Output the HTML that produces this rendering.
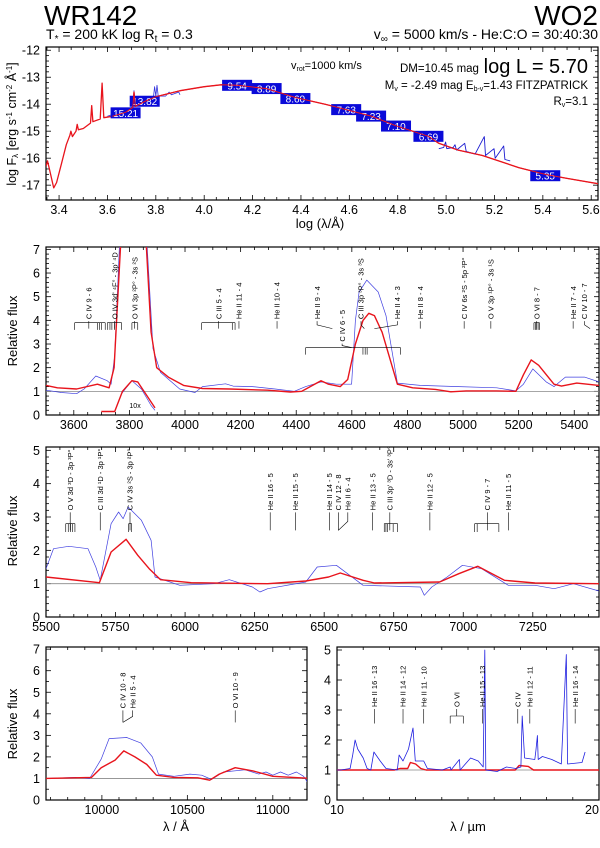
<!DOCTYPE html>
<html><head><meta charset="utf-8"><style>
html,body{margin:0;padding:0;background:#fff;}
svg{display:block;font-family:"Liberation Sans",sans-serif;}
</style></head><body>
<svg id="fig" width="600" height="848" viewBox="0 0 600 848" xmlns="http://www.w3.org/2000/svg">
<text x="44" y="25" font-size="28">WR142</text>
<text x="46" y="39" font-size="14">T<tspan font-size="10" dy="3">*</tspan><tspan dy="-3"> = 200 kK  log R</tspan><tspan font-size="10" dy="3">t</tspan><tspan dy="-3"> = 0.3</tspan></text>
<text x="598" y="25" font-size="28" text-anchor="end">WO2</text>
<text x="598" y="39" font-size="14" text-anchor="end">v<tspan font-size="10" dy="3">∞</tspan><tspan dy="-3"> = 5000 km/s - He:C:O = 30:40:30</tspan></text>
<text x="291" y="69" font-size="11">v<tspan font-size="7" dy="2">rot</tspan><tspan dy="-2">=1000 km/s</tspan></text>
<text x="400" y="72" font-size="11.5">DM=10.45 mag</text>
<text x="588" y="73" font-size="20" text-anchor="end">log L = 5.70</text>
<text x="588" y="89" font-size="11.5" text-anchor="end">M<tspan font-size="7" dy="2">v</tspan><tspan dy="-2"> = -2.49 mag   E</tspan><tspan font-size="7" dy="2">b-v</tspan><tspan dy="-2">=1.43  FITZPATRICK</tspan></text>
<text x="588" y="105" font-size="11.5" text-anchor="end">R<tspan font-size="7" dy="2">v</tspan><tspan dy="-2">=3.1</tspan></text>
<g id="plots"></g>
</svg>
<script>
// ---------- DATA ----------
const sedRed = [[3.346,-16.3],[3.352,-16.1],[3.36,-16.4],[3.378,-17.1],[3.39,-16.9],[3.41,-16.2],[3.43,-15.5],[3.445,-15.15],[3.449,-15.0],[3.455,-15.2],[3.47,-15.0],[3.475,-14.75],[3.48,-14.95],[3.5,-14.9],[3.53,-14.7],[3.535,-14.05],[3.54,-14.65],[3.57,-14.55],[3.578,-13.22],[3.585,-14.5],[3.62,-14.45],[3.675,-14.3],[3.705,-14.12],[3.71,-13.55],[3.715,-14.08],[3.754,-13.9],[3.8,-13.72],[3.9,-13.5],[4.0,-13.35],[4.07,-13.28],[4.136,-13.3],[4.258,-13.42],[4.377,-13.75],[4.5,-14.0],[4.587,-14.2],[4.69,-14.44],[4.793,-14.8],[4.927,-15.19],[4.97,-15.45],[5.05,-15.7],[5.15,-15.9],[5.3,-16.35],[5.41,-16.6],[5.5,-16.75],[5.63,-16.95]];
const sedBlueUV = [[3.6,-14.45],[3.68,-14.2],[3.705,-14.1],[3.71,-13.5],[3.715,-14.05],[3.76,-13.85],[3.79,-13.75],[3.795,-13.35],[3.8,-13.7],[3.805,-13.3],[3.81,-13.7],[3.84,-13.7],[3.855,-13.55],[3.865,-13.65],[3.88,-13.6],[3.895,-13.55],[3.9,-13.65]];
const sedBlueIR = [[4.97,-15.65],[4.99,-15.6],[4.998,-15.4],[5.003,-15.65],[5.03,-15.6],[5.037,-15.5],[5.043,-15.7],[5.077,-15.45],[5.083,-15.75],[5.12,-15.85],[5.158,-15.2],[5.163,-15.9],[5.198,-15.65],[5.203,-16.0],[5.238,-15.55],[5.243,-16.05],[5.265,-16.1]];
const photLabels = ["15.21","13.82","9.54","8.89","8.60","7.63","7.23","7.10","6.69","5.35"];
const photLogLam = [3.675,3.754,4.136,4.258,4.377,4.587,4.69,4.793,4.927,5.41];
const photLogF = [-14.32,-13.89,-13.3,-13.42,-13.79,-14.2,-14.44,-14.81,-15.19,-16.65];

const p2Red = [[3500,1.25],[3541,1.15],[3610,1.1],[3685,1.3],[3727,1.15],[3745,2.0],[3754,4],[3768,7.1],[3775,7.6],[3855,7.6],[3861,7.1],[3878,3.5],[3898,2.0],[3940,1.6],[3995,1.25],[4063,1.12],[4160,1.1],[4297,1.05],[4379,0.97],[4420,1.0],[4489,1.45],[4516,1.3],[4558,1.2],[4585,1.5],[4613,3.0],[4640,4.0],[4661,4.3],[4681,4.2],[4709,3.5],[4764,1.3],[4819,1.15],[4901,1.08],[4956,0.98],[5011,1.02],[5121,1.02],[5190,1.0],[5217,1.7],[5245,2.33],[5272,2.1],[5327,1.3],[5354,1.22],[5409,1.35],[5489,1.25]];
const p2Blue = [[3500,1.05],[3555,0.95],[3610,0.9],[3637,1.1],[3679,1.65],[3720,1.45],[3734,1.3],[3747,2.5],[3764,7.1],[3770,7.6],[3860,7.6],[3864,7.1],[3885,2.8],[3912,1.8],[3981,1.1],[4036,0.95],[4063,1.2],[4146,1.32],[4173,1.22],[4242,1.2],[4324,1.1],[4393,1.0],[4434,1.2],[4489,1.4],[4544,1.3],[4599,1.3],[4613,4.0],[4626,5.2],[4654,5.7],[4695,5.2],[4723,4.2],[4764,1.35],[4846,1.25],[4984,1.2],[5121,1.15],[5190,1.02],[5217,1.3],[5251,1.95],[5299,1.4],[5327,1.2],[5368,1.6],[5437,1.6],[5489,1.4]];
const p2InsetRed = [[3699,0.15],[3747,0.15],[3775,1.0],[3809,1.45],[3830,1.4],[3864,0.8],[3892,0.3]];
const p2InsetBlue = [[3747,0.15],[3772,0.9],[3809,1.45],[3843,1.1],[3878,0.4],[3892,0.2]];

const p3Red = [[5500,1.2],[5692,1.03],[5734,1.95],[5788,2.33],[5830,1.85],[5871,1.45],[5912,1.12],[6022,1.03],[6297,1.0],[6434,1.08],[6516,1.2],[6558,1.32],[6640,1.1],[6681,1.02],[6915,1.05],[6984,1.3],[7052,1.52],[7148,1.1],[7258,1.02],[7488,1.0]];
const p3Blue = [[5500,1.45],[5527,2.05],[5582,2.12],[5651,2.05],[5679,1.5],[5695,1.1],[5734,2.8],[5761,3.15],[5777,2.95],[5795,3.3],[5843,2.9],[5878,2.3],[5892,1.2],[5981,0.95],[6104,1.0],[6159,1.12],[6242,0.9],[6269,0.75],[6297,0.85],[6434,1.05],[6475,1.5],[6544,1.55],[6640,0.95],[6846,0.9],[6860,0.65],[6887,0.9],[6942,1.2],[6997,1.55],[7066,1.45],[7162,0.95],[7258,0.95],[7327,0.85],[7396,1.0],[7488,0.78]];

const p4Red = [[9663,1.0],[9939,1.05],[9996,1.5],[10077,1.85],[10128,2.28],[10193,2.0],[10262,1.65],[10319,1.15],[10422,1.05],[10561,1.03],[10631,0.92],[10687,1.2],[10780,1.5],[10884,1.35],[11000,1.1],[11229,1.0]];
const p4Blue = [[9663,1.0],[9846,1.05],[9928,1.0],[9996,1.9],[10042,2.85],[10146,2.9],[10227,2.65],[10295,2.0],[10331,1.2],[10422,1.1],[10515,1.2],[10584,1.15],[10642,0.95],[10711,1.3],[10838,1.4],[10918,1.2],[10960,1.3],[11000,1.15],[11045,1.3],[11090,1.15],[11138,1.3],[11180,1.1],[11205,0.8],[11229,1.2]];

const p5Blue = [[10.0,1.0],[10.14,1.0],[10.5,1.05],[10.6,1.5],[10.69,2.0],[10.79,1.7],[11.0,1.4],[11.15,1.05],[11.29,1.0],[11.41,1.6],[11.65,1.3],[11.87,1.05],[12.3,1.0],[12.37,1.5],[12.52,1.3],[12.73,1.7],[12.9,2.4],[12.99,1.3],[13.31,1.3],[13.45,1.05],[14.02,1.0],[14.32,1.1],[14.35,1.0],[14.67,1.35],[14.7,1.0],[15.1,1.4],[15.39,1.3],[15.58,1.1],[15.64,5.0],[15.68,1.0],[16.11,0.95],[16.47,1.1],[16.83,1.05],[17.02,1.1],[17.07,2.8],[17.16,1.4],[17.55,1.35],[17.59,1.65],[17.65,2.15],[17.68,1.35],[17.84,1.45],[18.2,1.35],[18.56,1.2],[18.75,4.85],[18.8,1.2],[19.35,1.25],[19.47,1.6]];
const p5Red = [[10.0,1.0],[12.2,1.0],[12.4,1.05],[12.7,1.05],[12.8,1.25],[13.0,1.2],[13.2,1.05],[13.4,1.0],[16.8,1.0],[16.95,1.15],[17.3,1.12],[17.5,1.0],[20,1.0]];

const p2Lines = [[3654,"C IV 9 - 6"],[3747,"O IV 3d' ⁴F° - 3p' ⁴D"],[3819,"O VI 3p ²P° - 3s ²S"],[4121,"C III 5 - 4"],[4194,"He II 11 - 4"],[4331,"He II 10 - 4"],[4475,"He II 9 - 4",4530],[4633,"C III 3p ³P° - 3s ³S",4645],[4764,"He II 4 - 3",4681],[4846,"He II 8 - 4"],[5004,"C IV 6s ²S - 5p ²P°"],[5100,"O V 3p ¹P° - 3s ¹S"],[5265,"O VI 8 - 7"],[5396,"He II 7 - 4"],[5437,"C IV 10 - 7",5457]];
const p2Brackets = [[3603,3713,[3603,3685,3693,3700,3713]],[3720,3772,[3722,3730,3737,3747,3772]],[3809,3830,[3809,3830]],[4060,4180,[4060,4170,4180]],[5255,5275,[5255,5260,5265,5270,5275]]];
const p3Lines = [[5587,"O V 3d ³D - 3p ³P°"],[5695,"C III 3d ¹D - 3p ¹P°"],[5802,"C IV 3s ²S - 3p ²P°"],[6306,"He II 16 - 5"],[6397,"He II 15 - 5"],[6519,"He II 14 - 5"],[6551,"C IV 12 - 8"],[6585,"He II 6 - 4",6551],[6674,"He II 13 - 5"],[6736,"C III 3p' ³D - 3s' ³P°"],[6880,"He II 12 - 5"],[7087,"C IV 9 - 7"],[7162,"He II 11 - 5"]];
const p3Brackets = [[5571,5604,[5571,5580,5588,5596,5604]],[5797,5808,[5797,5808]],[6716,6764,[6716,6722,6728,6748,6764]],[7041,7128,[7041,7050,7128]]];
const p4Lines = [[10123,"C IV 10 - 8"],[10180,"He II 5 - 4",10123],[10780,"O VI 10 - 9"]];
const p5Lines = [[11.43,"He II 16 - 13"],[12.52,"He II 14 - 12"],[13.31,"He II 11 - 10"],[14.57,"O VI"],[15.55,"He II 15 - 13"],[16.9,"C IV"],[17.36,"He II 12 - 11"],[19.09,"He II 16 - 14"]];
const p5Brackets = [[14.32,14.82,[14.32,14.82]]];

// ---------- DRAWING ----------
const NS = "http://www.w3.org/2000/svg";
const root = document.getElementById("plots");
function mk(tag, attrs, parent){
  const e = document.createElementNS(NS, tag);
  for (const k in attrs) e.setAttribute(k, attrs[k]);
  (parent||root).appendChild(e);
  return e;
}
function axes(x0,x1,y0,y1,d0,d1,v0,v1){
  return {x:d=>x0+(d-d0)*(x1-x0)/(d1-d0), y:v=>y1-(v-v0)*(y1-y0)/(v1-v0), x0,x1,y0,y1};
}
function path(ax, pts, color, w, name, clip){
  const d = pts.map((p,i)=>(i?"L":"M")+ax.x(p[0]).toFixed(1)+","+ax.y(p[1]).toFixed(1)).join("");
  const e = mk("path",{d:d,fill:"none",stroke:color,"stroke-width":w,"stroke-linejoin":"round","clip-path":"url(#"+clip+")"});
  
  
  return e;
}
function isMajor(v, major){ const q=v/major; return Math.abs(q-Math.round(q))<1e-6; }
function frame(ax, id, name, xt, yt, fmtX, fmtY){
  const defs = mk("defs",{});
  const cp = mk("clipPath",{id:id},defs);
  mk("rect",{x:ax.x0,y:ax.y0,width:ax.x1-ax.x0,height:ax.y1-ax.y0},cp);
  const g = mk("g",{});
  
  
  const kx0 = Math.ceil(xt.start/xt.minor-1e-6), kx1 = Math.floor(xt.end/xt.minor+1e-6);
  for (let k=kx0; k<=kx1; k++){
    const v = k*xt.minor;
    const major = isMajor(v, xt.major);
    const px = ax.x(v); if (px<ax.x0-0.5||px>ax.x1+0.5) continue;
    const L = major?5:3;
    mk("line",{x1:px,x2:px,y1:ax.y1,y2:ax.y1-L,stroke:"#000","stroke-width":0.8},g);
    mk("line",{x1:px,x2:px,y1:ax.y0,y2:ax.y0+L,stroke:"#000","stroke-width":0.8},g);
    if (major){
      const t = mk("text",{x:Math.min(px,ax.x1-7),y:ax.y1+14,"font-size":12.5,"text-anchor":"middle"},g);
      t.textContent = fmtX(v);
      
      
    }
  }
  const ky0 = Math.ceil(yt.start/yt.minor-1e-6), ky1 = Math.floor(yt.end/yt.minor+1e-6);
  for (let k=ky0; k<=ky1; k++){
    const v = k*yt.minor;
    const major = isMajor(v, yt.major);
    const py = ax.y(v); if (py<ax.y0-0.5||py>ax.y1+0.5) continue;
    const L = major?5:3;
    mk("line",{x1:ax.x0,x2:ax.x0+L,y1:py,y2:py,stroke:"#000","stroke-width":0.8},g);
    mk("line",{x1:ax.x1,x2:ax.x1-L,y1:py,y2:py,stroke:"#000","stroke-width":0.8},g);
    if (major){
      const t = mk("text",{x:ax.x0-6,y:py+4.5,"font-size":12.5,"text-anchor":"end"},g);
      t.textContent = fmtY(v);
      
      
    }
  }
  const r = mk("rect",{x:ax.x0,y:ax.y0,width:ax.x1-ax.x0,height:ax.y1-ax.y0,fill:"none",stroke:"#000","stroke-width":1.2},g);
  
  
}
function contLine(ax, name, clip){
  const e = mk("line",{x1:ax.x0,x2:ax.x1,y1:ax.y(1),y2:ax.y(1),stroke:"#888","stroke-width":0.8,"clip-path":"url(#"+clip+")"});
  
  
}
function lineIds(ax, lines, brackets, textBot, lineEnd, brY, tickEnd, name){
  lines.forEach(l=>{
    const px = ax.x(l[0]);
    const t = mk("text",{x:0,y:0,"font-size":7.5,transform:"translate("+(px+2.7)+","+ax.y(textBot)+") rotate(-90)"});
    t.textContent = l[1];
    
    
    const yb = ax.y(textBot)+2, ye = ax.y(lineEnd);
    let d = "M"+px+","+yb+"L"+px+","+((yb+ye)/2);
    const tx = l[2]!==undefined ? ax.x(l[2]) : px;
    d += "L"+tx+","+ye;
    const p = mk("path",{d:d,fill:"none",stroke:"#000","stroke-width":0.6});
    
    
  });
  brackets.forEach(b=>{
    const y = ax.y(brY);
    let d = "M"+ax.x(b[0])+","+y+"L"+ax.x(b[1])+","+y;
    b[2].forEach(v=>{ d += "M"+ax.x(v)+","+y+"L"+ax.x(v)+","+ax.y(tickEnd); });
    const p = mk("path",{d:d,fill:"none",stroke:"#000","stroke-width":0.6});
    
    
  });
}
function ylabel(x, y, txt, name){
  const t = mk("text",{x:0,y:0,"font-size":13,"text-anchor":"middle",transform:"translate("+x+","+y+") rotate(-90)"});
  t.textContent = txt;
  
  
  return t;
}
function xlabel(x, y, txt, name){
  const t = mk("text",{x:x,y:y,"font-size":13,"text-anchor":"middle"});
  t.textContent = txt;
  
  
}
const i0 = v=>String(Math.round(v));

// Panel 1: SED
const a1 = axes(46,598,47,200,3.346,5.628,-17.55,-11.88);
frame(a1,"c1","sed",{start:3.35,end:5.6,major:0.2,minor:0.05},{start:-17.4,end:-12,major:1,minor:0.2},v=>v.toFixed(1),v=>String(Math.round(v)));
path(a1, sedBlueUV, "#3333dd", 0.8, "sed-observed-uv-optical", "c1");
path(a1, sedRed, "#e8141c", 1.3, "sed-model-curve", "c1");
path(a1, sedBlueIR, "#1a1ad0", 0.9, "sed-observed-ir", "c1");
photLabels.forEach((lab,i)=>{
  const cx = a1.x(photLogLam[i]), cy = a1.y(photLogF[i]);
  const r = mk("rect",{x:cx-15,y:cy-5.5,width:30,height:11,fill:"#0a0ad8"});
  
  
  const t = mk("text",{x:cx,y:cy+4,"font-size":10,"text-anchor":"middle",fill:"#fff"});
  t.textContent = lab;
  
  
});
path(a1, sedRed.filter(p=>p[0]>3.6), "#e8141c", 1.0, "sed-model-curve-overlay", "c1");
const yl1 = mk("text",{x:0,y:0,"font-size":12.5,"text-anchor":"middle",transform:"translate(16,124) rotate(-90)"});


yl1.innerHTML = 'log F<tspan font-size="8" dy="2">λ</tspan><tspan dy="-2"> [erg s</tspan><tspan font-size="8" dy="-4">-1</tspan><tspan dy="4"> cm</tspan><tspan font-size="8" dy="-4">-2</tspan><tspan dy="4"> Å</tspan><tspan font-size="8" dy="-4">-1</tspan><tspan dy="4">]</tspan>';
xlabel(320,228,"log (λ/Å)","sed-x-axis-title");

// Panel 2
const a2 = axes(46,599,247,415,3500,5489,0,7.1);
frame(a2,"c2","blue-range",{start:3500,end:5500,major:200,minor:50},{start:0,end:7,major:1,minor:0.2},i0,i0);
contLine(a2,"blue-range","c2");
path(a2, p2Blue, "#4040e0", 0.7, "blue-range-observed", "c2");
path(a2, p2Red, "#e8141c", 1.4, "blue-range-model", "c2");
path(a2, p2InsetBlue, "#4040e0", 0.7, "inset-observed-10x", "c2");
path(a2, p2InsetRed, "#e8141c", 1.4, "inset-model-10x", "c2");
const ten = mk("text",{x:a2.x(3800),y:a2.y(0.3),"font-size":7});
ten.textContent = "10x";


lineIds(a2, p2Lines, p2Brackets, 4.05, 3.65, 3.9, 3.6, "blue-range");
lineIds(a2, [[4565,"C IV 6 - 5",4599]], [[4434,4775,[4434,4640,4648,4655,4775]]], 3.1, 2.85, 2.85, 2.55, "blue-range");
ylabel(17,331,"Relative flux","blue-range-y-axis-title");

// Panel 3
const a3 = axes(46,599,447,617,5500,7488,0,5.1);
frame(a3,"c3","red-range",{start:5500,end:7500,major:250,minor:50},{start:0,end:5,major:1,minor:0.2},i0,i0);
contLine(a3,"red-range","c3");
path(a3, p3Blue, "#4040e0", 0.7, "red-range-observed", "c3");
path(a3, p3Red, "#e8141c", 1.4, "red-range-model", "c3");
lineIds(a3, p3Lines, p3Brackets, 3.2, 2.6, 2.8, 2.55, "red-range");
ylabel(17,531,"Relative flux","red-range-y-axis-title");

// Panel 4
const a4 = axes(46,307,647,800,9673,11200,0,7.1);
frame(a4,"c4","nir",{start:9700,end:11200,major:500,minor:100},{start:0,end:7,major:1,minor:0.5},i0,i0);
contLine(a4,"nir","c4");
path(a4, p4Blue, "#4040e0", 0.7, "nir-observed", "c4");
path(a4, p4Red, "#e8141c", 1.4, "nir-model", "c4");
lineIds(a4, p4Lines, [], 4.25, 3.6, 3.6, 3.6, "nir");
ylabel(17,724,"Relative flux","nir-y-axis-title");
xlabel(176,831,"λ / Å","nir-x-axis-title");

// Panel 5
const a5 = axes(337,599,647,800,10,20,0,5.1);
frame(a5,"c5","mir",{start:10,end:20,major:10,minor:1},{start:0,end:5,major:1,minor:0.5},i0,i0);
contLine(a5,"mir","c5");
path(a5, p5Red, "#e8141c", 1.4, "mir-model", "c5");
path(a5, p5Blue, "#2020e0", 0.8, "mir-observed", "c5");
lineIds(a5, p5Lines.filter(l=>l[1]!=="O VI"), [], 3.1, 2.55, 2.55, 2.55, "mir");
lineIds(a5, [[14.57,"O VI"]], p5Brackets, 3.1, 2.8, 2.8, 2.55, "mir");
xlabel(468,831,"λ / µm","mir-x-axis-title");
</script>
</body></html>
